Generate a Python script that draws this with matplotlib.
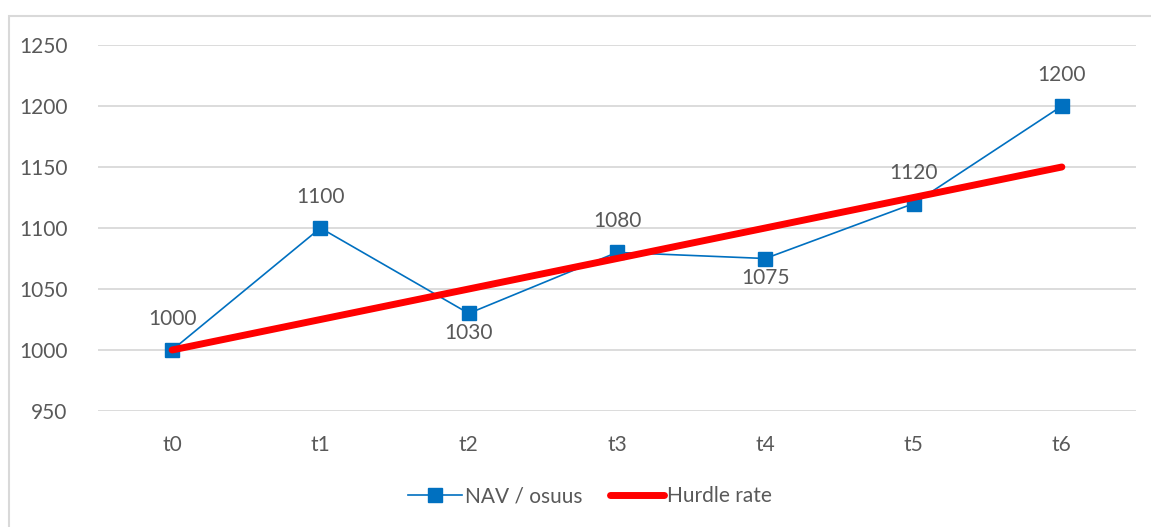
import matplotlib.pyplot as plt
from matplotlib.patches import Rectangle

periods = ["t0", "t1", "t2", "t3", "t4", "t5", "t6"]
nav = [1000, 1100, 1030, 1080, 1075, 1120, 1200]
hurdle = [1000, 1025, 1050, 1075, 1100, 1125, 1150]
label_pos = ["above", "above", "below", "above", "below", "above", "above"]

plt.rcParams['font.family'] = ['Lato', 'DejaVu Sans']
txt = '#595959'

fig = plt.figure(figsize=(11.51, 5.27), dpi=100)
fig.patches.append(Rectangle((9 / 1151, -0.1), 1.2, (527 - 16) / 527 + 0.1,
                             transform=fig.transFigure, fill=False,
                             edgecolor='#d9d9d9', linewidth=1.5))
ax = fig.add_axes([98 / 1151, 116 / 527, 1038 / 1151, 366 / 527])

x = list(range(len(periods)))
ax.plot(x, nav, color='#0070c0', linewidth=1.2, marker='s', markersize=10.5,
        markerfacecolor='#0070c0', markeredgecolor='#0070c0', label='NAV / osuus', zorder=3)
ax.plot(x, hurdle, color='#ff0000', linewidth=5, solid_capstyle='round',
        label='Hurdle rate', zorder=4)

for xi, v, p in zip(x, nav, label_pos):
    dy = 31 if p == "above" else -20
    ax.annotate(str(v), (xi, v), xytext=(0, dy), textcoords='offset pixels',
                ha='center', va='center', fontsize=15, color=txt)

ax.set_xlim(-0.5, len(periods) - 0.5)
ax.set_ylim(950, 1250)
ax.set_yticks(range(950, 1251, 50))
ax.set_xticks(x)
ax.set_xticklabels(periods)
ax.grid(axis='y', color='#d9d9d9', linewidth=1.3)
ax.set_axisbelow(True)
for s in ax.spines.values():
    s.set_visible(False)
ax.tick_params(length=0, labelsize=15, labelcolor=txt)
ax.tick_params(axis='y', pad=22)
ax.tick_params(axis='x', pad=17)

ax.legend(loc='center', bbox_to_anchor=(0.474, -0.233), ncol=2, frameon=False,
          fontsize=15, labelcolor=txt, handlelength=2.6, columnspacing=1.3, handletextpad=0.15)

fig.savefig('out.png', dpi=100)
